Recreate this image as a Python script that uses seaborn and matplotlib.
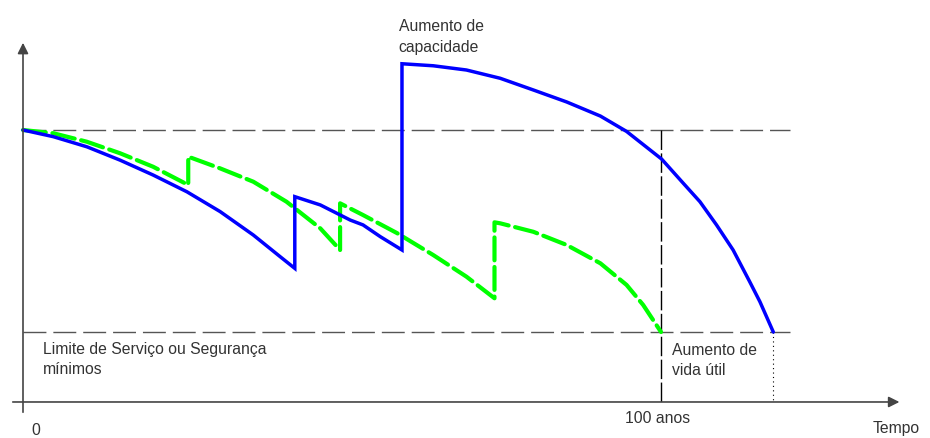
import pandas as pd
import matplotlib.pyplot as plt
import seaborn as sns

# anos e capacidade relativa (1 = capacidade inicial, 0 = limite minimo)
anos_azul = [0, 4.75, 10.0, 15.2, 20.4, 25.7, 30.9, 36.1, 40.3, 42.6,
             42.6, 46.6, 51.3, 53.3, 56.0, 59.4,
             59.4, 64.3, 69.5, 74.8, 80.0, 85.2, 90.5, 94.6, 100.1, 103.5, 106.1,
             108.7, 111.3, 113.9, 115.5, 117.6]
cap_azul = [1.0, 0.967, 0.917, 0.851, 0.777, 0.694, 0.596, 0.480, 0.373, 0.315,
            0.670, 0.629, 0.554, 0.530, 0.472, 0.406,
            1.328, 1.318, 1.297, 1.256, 1.198, 1.139, 1.069, 0.993, 0.856, 0.736, 0.645,
            0.530, 0.406, 0.249, 0.150, 0.0]

anos_verde = [0, 4.75, 10.0, 15.2, 20.4, 25.9,
              25.9, 30.9, 36.1, 41.3, 46.6, 49.7,
              49.7, 53.3, 58.6, 64.3, 69.5, 73.9,
              73.9, 74.8, 80.0, 85.2, 90.5, 94.6, 97.2, 100.0]
cap_verde = [1.0, 0.984, 0.942, 0.885, 0.818, 0.728,
             0.868, 0.810, 0.744, 0.645, 0.513, 0.406,
             0.637, 0.579, 0.490, 0.381, 0.274, 0.167,
             0.543, 0.538, 0.496, 0.431, 0.340, 0.233, 0.134, 0.0]

vida_util = 100
vida_aumentada = 117.6

df_azul = pd.DataFrame({'ano': anos_azul, 'cap': cap_azul})
df_verde = pd.DataFrame({'ano': anos_verde, 'cap': cap_verde})

sns.set_style('white')
plt.rcParams['font.family'] = ['Liberation Sans', 'DejaVu Sans']

fig = plt.figure(figsize=(9.3, 4.38), dpi=100)
ax = fig.add_axes([0, 0, 1, 1])
ax.set_xlim(-3.605, 142.16)
ax.set_ylim(-0.5248, 1.6436)
ax.axis('off')

cinza = '#555555'
texto = '#333333'

# linhas de referencia
ax.plot([0, 120.2], [1, 1], color=cinza, lw=1, linestyle=(0, (16.5, 5)))
ax.plot([0, 120.2], [0, 0], color=cinza, lw=1, linestyle=(0, (16.5, 5)))
ax.plot([vida_util, vida_util], [1, -0.3465], color='black', lw=1, linestyle=(0, (14, 2.5)))
ax.plot([vida_aumentada, vida_aumentada], [0, -0.3465], color='black', lw=0.8, linestyle=(0, (1, 3)))

# eixos com setas
ax.annotate('', xy=(137.8, -0.3465), xytext=(-2.04, -0.3465),
            arrowprops=dict(arrowstyle='-|>', color='#444444', lw=1.2, mutation_scale=16))
ax.annotate('', xy=(0, 1.4455), xytext=(0, -0.411),
            arrowprops=dict(arrowstyle='-|>', color='#444444', lw=1.2, mutation_scale=16))

# curvas
sns.lineplot(data=df_verde, x='ano', y='cap', sort=False, estimator=None, ax=ax,
             color='#00ff00', lw=3.0, linestyle=(0, (5.5, 1.6)),
             dash_capstyle='round', solid_joinstyle='miter')
sns.lineplot(data=df_azul, x='ano', y='cap', sort=False, estimator=None, ax=ax,
             color='#0000ff', lw=2.5, solid_joinstyle='miter')

fs = 11.3
ax.text(58.9, 1.3876, 'Aumento de\ncapacidade', fontsize=fs, color=texto, va='baseline', linespacing=1.45)
ax.text(3.13, -0.208, 'Limite de Serviço ou Segurança\nmínimos', fontsize=fs, color=texto, va='baseline', linespacing=1.45)
ax.text(101.7, -0.214, 'Aumento de\nvida útil', fontsize=fs, color=texto, va='baseline', linespacing=1.45)
ax.text(2.04, -0.51, '0', fontsize=fs, color=texto, va='baseline', ha='center')
ax.text(99.5, -0.449, '100 anos', fontsize=fs, color=texto, va='baseline', ha='center')
ax.text(133.2, -0.5, 'Tempo', fontsize=fs, color=texto, va='baseline')

fig.savefig('out.png', dpi=100)
